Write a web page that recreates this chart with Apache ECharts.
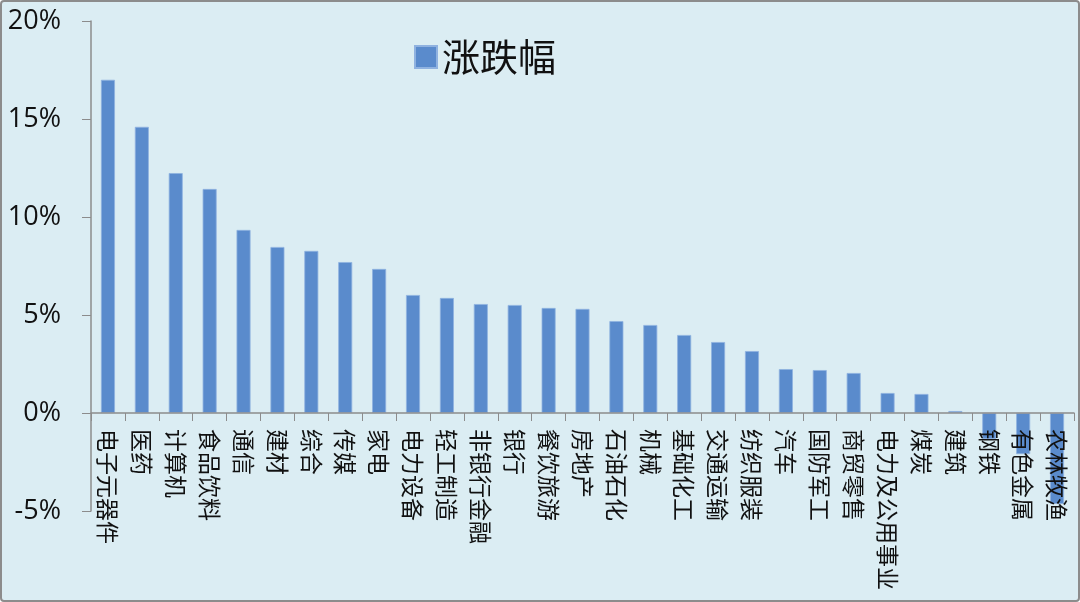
<!DOCTYPE html>
<html>
<head>
<meta charset="utf-8">
<script src="https://cdn.jsdelivr.net/npm/echarts@6/dist/echarts.min.js"></script>
<style>
  html, body { margin: 0; padding: 0; background: #fff; }
  #chart-container {
    width: 1080px; height: 602px; box-sizing: border-box;
    border: 2px solid #8c8c8c; border-radius: 4px; background: #dbedf3;
  }
</style>
</head>
<body>
<div id="chart-container"></div>
<script>
var categories = ['电子元器件', '医药', '计算机', '食品饮料', '通信', '建材', '综合', '传媒', '家电',
    '电力设备', '轻工制造', '非银行金融', '银行', '餐饮旅游', '房地产', '石油石化', '机械', '基础化工',
    '交通运输', '纺织服装', '汽车', '国防军工', '商贸零售', '电力及公用事业', '煤炭', '建筑', '钢铁',
    '有色金属', '农林牧渔'];
var changes = [17.0, 14.6, 12.24, 11.43, 9.34, 8.47, 8.27, 7.7, 7.35,
    6.02, 5.87, 5.56, 5.51, 5.36, 5.31, 4.69, 4.49, 3.98,
    3.62, 3.16, 2.24, 2.19, 2.04, 1.02, 0.97, 0.1, -1.33,
    -2.1, -4.64];
var yTicks = [-5, 0, 5, 10, 15, 20];

var dom = document.getElementById('chart-container');
var myChart = echarts.init(dom, null, { renderer: 'canvas' });

// x axis sits on the 0% line: plot height 490px over 25 points
var plotTop = 19, plotBottom = 89, chartH = 598;
var plotH = chartH - plotTop - plotBottom;
var zeroOffset = -plotH * (0 - yTicks[0]) / (yTicks[yTicks.length - 1] - yTicks[0]);

var option = {
    backgroundColor: 'transparent',
    animation: false,
    legend: {
        data: ['涨跌幅'],
        left: 407,
        top: 31,
        itemWidth: 22,
        itemHeight: 22,
        itemGap: 18,
        icon: 'rect',
        textStyle: {
            fontFamily: 'Noto Sans CJK SC',
            fontSize: 38,
            color: '#111'
        }
    },
    grid: {
        left: 89,
        right: 4,
        top: plotTop,
        bottom: plotBottom,
        containLabel: false,
        outerBoundsMode: 'none'
    },
    xAxis: {
        type: 'category',
        data: categories,
        offset: zeroOffset,
        z: 5,
        axisLine: { onZero: false, lineStyle: { color: '#8c8c8c', width: 1.5 } },
        axisTick: { show: true, length: 8, lineStyle: { color: '#8c8c8c' } },
        axisLabel: {
            rotate: -90,
            interval: 0,
            margin: 16,
            fontFamily: 'Noto Sans CJK SC',
            fontSize: 23,
            color: '#111'
        }
    },
    yAxis: {
        type: 'value',
        min: yTicks[0],
        max: yTicks[yTicks.length - 1],
        interval: 5,
        splitLine: { show: false },
        axisLine: { show: true, lineStyle: { color: '#8c8c8c', width: 1.5 } },
        axisTick: { show: true, length: 9, lineStyle: { color: '#8c8c8c' } },
        axisLabel: {
            margin: 30,
            formatter: '{value}%',
            fontFamily: 'Open Sans',
            fontSize: 27,
            color: '#111'
        }
    },
    series: [{
        name: '涨跌幅',
        type: 'bar',
        data: changes,
        barWidth: 14,
        z: 2,
        itemStyle: {
            color: '#5a8bcc',
            borderColor: '#8fb2e0',
            borderWidth: 0.8
        }
    }]
};

myChart.setOption(option);
window.addEventListener('resize', myChart.resize);
</script>
</body>
</html>
